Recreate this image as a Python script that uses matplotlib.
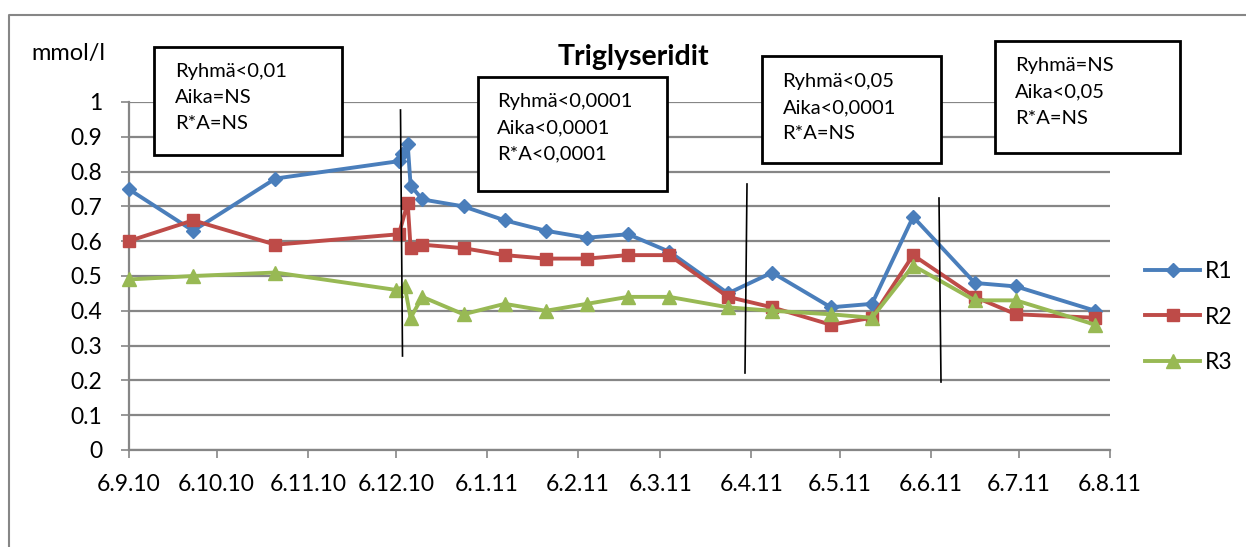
import matplotlib
matplotlib.use("Agg")
import matplotlib.pyplot as plt
from matplotlib.lines import Line2D
from matplotlib.patches import Rectangle
import pandas as pd

plt.rcParams['font.family'] = ['Lato', 'DejaVu Sans']

# mittaukset (pvm, mmol/l)
r1_dates = ['2010-09-06', '2010-09-28', '2010-10-26', '2010-12-07', '2010-12-08',
            '2010-12-10', '2010-12-11', '2010-12-15', '2010-12-29', '2011-01-12',
            '2011-01-26', '2011-02-09', '2011-02-23', '2011-03-09', '2011-03-29',
            '2011-04-13', '2011-05-03', '2011-05-17', '2011-05-31', '2011-06-21',
            '2011-07-05', '2011-08-01']
r1_values = [0.75, 0.63, 0.78, 0.83, 0.85, 0.88, 0.76, 0.72, 0.70, 0.66, 0.63,
             0.61, 0.62, 0.57, 0.45, 0.51, 0.41, 0.42, 0.67, 0.48, 0.47, 0.40]

r2_dates = ['2010-09-06', '2010-09-28', '2010-10-26', '2010-12-07', '2010-12-10',
            '2010-12-11', '2010-12-15', '2010-12-29', '2011-01-12', '2011-01-26',
            '2011-02-09', '2011-02-23', '2011-03-09', '2011-03-29', '2011-04-13',
            '2011-05-03', '2011-05-17', '2011-05-31', '2011-06-21', '2011-07-05',
            '2011-08-01']
r2_values = [0.60, 0.66, 0.59, 0.62, 0.71, 0.58, 0.59, 0.58, 0.56, 0.55, 0.55,
             0.56, 0.56, 0.44, 0.41, 0.36, 0.38, 0.56, 0.44, 0.39, 0.38]

r3_dates = ['2010-09-06', '2010-09-28', '2010-10-26', '2010-12-06', '2010-12-09',
            '2010-12-11', '2010-12-15', '2010-12-29', '2011-01-12', '2011-01-26',
            '2011-02-09', '2011-02-23', '2011-03-09', '2011-03-29', '2011-04-13',
            '2011-05-03', '2011-05-17', '2011-05-31', '2011-06-21', '2011-07-05',
            '2011-08-01']
r3_values = [0.49, 0.50, 0.51, 0.46, 0.47, 0.38, 0.44, 0.39, 0.42, 0.40, 0.42,
             0.44, 0.44, 0.41, 0.40, 0.39, 0.38, 0.53, 0.43, 0.43, 0.36]

tick_labels = ['6.9.10', '6.10.10', '6.11.10', '6.12.10', '6.1.11', '6.2.11',
               '6.3.11', '6.4.11', '6.5.11', '6.6.11', '6.7.11', '6.8.11']

# tilastolliset tulokset jaksoittain
box_texts = [
    ['Ryhmä<0,01', 'Aika=NS', 'R*A=NS'],
    ['Ryhmä<0,0001', 'Aika<0,0001', 'R*A<0,0001'],
    ['Ryhmä<0,05', 'Aika<0,0001', 'R*A=NS'],
    ['Ryhmä=NS', 'Aika<0,05', 'R*A=NS'],
]

W, H = 1246, 547
GRAY = '#868686'


def px(x, y):
    # pikselit (vasen yläkulma) -> figure-koordinaatit
    return x / W, 1 - y / H


fig = plt.figure(figsize=(W / 100, H / 100), dpi=100)
ax = fig.add_axes([128.5 / W, (H - 450) / H, 981.5 / W, 348 / H])

tick_dates = pd.to_datetime(tick_labels, format='%d.%m.%y')

series = [
    ('R1', r1_dates, r1_values, '#4A7EBB', 'D', 7.5),
    ('R2', r2_dates, r2_values, '#BE4B48', 's', 8.5),
    ('R3', r3_dates, r3_values, '#98B954', '^', 10),
]
for name, d, v, c, m, ms in series:
    ax.plot(pd.to_datetime(d), v, color=c, lw=2.8, marker=m, ms=ms,
            label=name, clip_on=False, zorder=3)

ax.set_xlim(tick_dates[0], tick_dates[-1])
ax.set_ylim(0, 1)
ax.set_yticks([i / 10 for i in range(11)])
ax.set_yticklabels(['0'] + ['0.%d' % i for i in range(1, 10)] + ['1'])
ax.set_xticks(tick_dates)
ax.set_xticklabels(tick_labels)

ax.yaxis.grid(True, color=GRAY, lw=1.6)
ax.set_axisbelow(True)
for s in ['top', 'right']:
    ax.spines[s].set_visible(False)
for s in ['left', 'bottom']:
    ax.spines[s].set_color(GRAY)
    ax.spines[s].set_linewidth(1.6)
ax.tick_params(axis='y', length=6, width=1.2, color=GRAY, pad=13, labelsize=16.5)
ax.tick_params(axis='x', length=6, width=1.2, color=GRAY, pad=11, labelsize=16.5)

# otsikko ja yksikkö
fig.text(*px(633, 65), 'Triglyseridit', ha='center', va='baseline',
         fontsize=20.5, fontweight='bold')
fig.text(*px(31, 60), 'mmol/l', ha='left', va='baseline', fontsize=17)

# pystyviivat jaksojen välillä
for (x0, y0), (x1, y1) in [((400.5, 110), (402.5, 356)),
                           ((747, 184), (745, 373)),
                           ((939, 198), (941, 382))]:
    a, b = px(x0, y0)
    c, d = px(x1, y1)
    fig.add_artist(Line2D([a, c], [b, d], color='black', lw=1.2, zorder=5))

# tekstilaatikot
boxes = [(154, 47, 342, 155, 175, 77),
         (477.5, 77, 667, 191, 497, 107),
         (762, 56, 941, 163, 782.5, 87),
         (995, 41, 1180, 153, 1015, 71.5)]
for (l, t, r, b, tx, ty), lines in zip(boxes, box_texts):
    fig.add_artist(Rectangle(px(l, b), (r - l) / W, (b - t) / H,
                             transform=fig.transFigure, facecolor='white',
                             edgecolor='black', lw=2, zorder=6))
    for i, line in enumerate(lines):
        fig.text(*px(tx, ty + 26 * i), line, ha='left', va='baseline',
                 fontsize=14.5, zorder=7)

# kaavion reunus
fig.add_artist(Line2D([9 / W, 9 / W, 1], [0, 1 - 15 / H, 1 - 15 / H],
                      color=GRAY, lw=1.5))

fig.legend(loc='center left', bbox_to_anchor=px(1145, 317), frameon=False,
           fontsize=16.5, handlelength=2.4, handletextpad=0.2, labelspacing=1.05,
           borderpad=0, borderaxespad=0)

fig.savefig('out.png', dpi=100)
